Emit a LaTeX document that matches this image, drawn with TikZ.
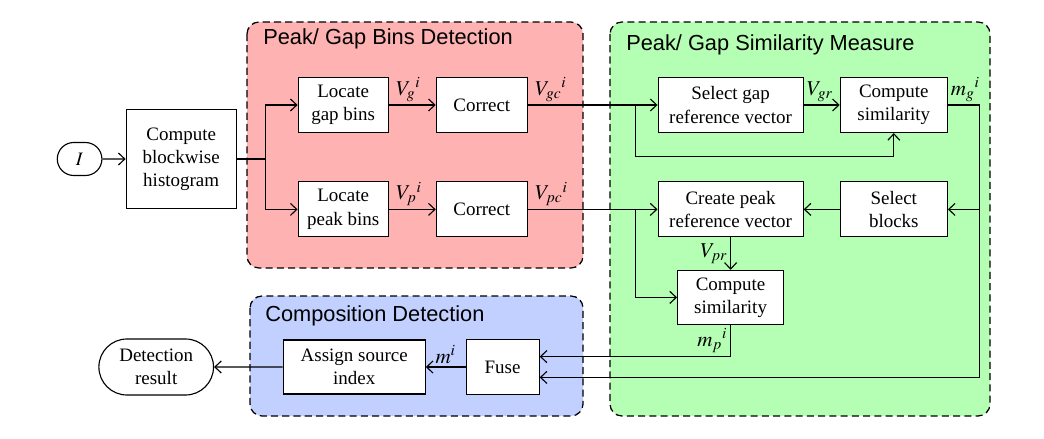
\documentclass[tikz,border=0pt]{standalone}
\usepackage{mathptmx}
\usepackage{fontspec}
\setmainfont{Liberation Serif}
\setsansfont{Liberation Sans}
\usepackage{tikz}
\usetikzlibrary{shapes.geometric, shapes.misc, arrows, arrows.meta}
\usepackage{color}
\definecolor{binsred}{RGB}{255,178,178}
\definecolor{simgreen}{RGB}{180,255,180}
\definecolor{compblue}{RGB}{194,208,255}
\tikzstyle{process} = [rectangle, minimum height=1.375cm, text centered, align=center, draw=black, fill=white, thick, font=\fontsize{13.5}{16.5}\selectfont]
\tikzstyle{terminal} = [rounded rectangle, text centered, align=center, draw=black, fill=white, thick, font=\fontsize{13.5}{16.5}\selectfont]
\tikzstyle{region} = [draw=black, dash pattern=on 5pt off 3pt, rounded corners=0.3cm, line width=0.9pt]
\tikzstyle{title} = [anchor=base west, inner sep=0pt, font=\sffamily\fontsize{15.5}{18}\selectfont]
\tikzstyle{lbl} = [inner sep=2pt, font=\fontsize{15}{18}\selectfont]
\tikzstyle{arrow} = [thick,->,>={Straight Barb[length=1.6mm,width=3mm]}]

\begin{document}
\begin{tikzpicture}[node distance=2cm]
        \useasboundingbox (0,0) rectangle (26.1,-10.975);
        % Regions
        \draw [region, fill=binsred] (6.175,-0.55) rectangle (14.575,-6.7);
        \draw [region, fill=simgreen] (15.25,-0.55) rectangle (24.75,-10.4);
        \draw [region, fill=compblue] (6.25,-7.4) rectangle (14.575,-10.4);
        \node (binstitle) [title] at (6.575,-1.125) {Peak/ Gap Bins Detection};
        \node (simtitle) [title] at (15.65,-1.275) {Peak/ Gap Similarity Measure};
        \node (comptitle) [title] at (6.625,-8.025) {Composition Detection};

        % Nodes
        \node (input) [terminal, minimum width=1.35cm, minimum height=0.825cm] at (1.99,-3.975) {$I$};
        \node (hist) [process, right of=input, xshift=0.54cm, minimum width=2.75cm, minimum height=2.475cm] {Compute\\blockwise\\histogram};
        \node (gapbins) [process, right of=hist, xshift=2.05cm, yshift=1.35cm, minimum width=2.25cm] {Locate\\gap bins};
        \node (peakbins) [process, below of=gapbins, yshift=-0.61cm, minimum width=2.25cm] {Locate\\peak bins};
        \node (corrg) [process, right of=gapbins, xshift=1.465cm, minimum width=2.275cm] {Correct};
        \node (corrp) [process, right of=peakbins, xshift=1.465cm, minimum width=2.275cm] {Correct};
        \node (selgap) [process, right of=corrg, xshift=4.22cm, minimum width=3.625cm] {Select gap\\reference vector};
        \node (simg) [process, right of=selgap, xshift=2.08cm, minimum width=2.675cm] {Compute\\similarity};
        \node (creatpeak) [process, right of=corrp, xshift=4.22cm, minimum width=3.625cm] {Create peak\\reference vector};
        \node (selblocks) [process, right of=creatpeak, xshift=2.08cm, minimum width=2.675cm] {Select\\blocks};
        \node (simp) [process, below of=creatpeak, yshift=-0.2cm, minimum width=2.65cm, minimum height=1.35cm] {Compute\\similarity};
        \node (fuse) [process, below of=corrp, xshift=0.52cm, yshift=-1.94cm, minimum width=1.825cm] {Fuse};
        \node (assign) [process, left of=fuse, xshift=-1.71cm, minimum width=3.55cm, minimum height=1.35cm] {Assign source\\index};
        \node (result) [terminal, left of=assign, xshift=-2.95cm, minimum width=3.1cm, minimum height=1.4cm] {Detection\\result};
        \coordinate (split) at ([xshift=0.725cm]hist.east);
        \coordinate (gtap) at ([xshift=2.7cm]corrg.east);
        \coordinate (ptap) at ([xshift=2.7cm]corrp.east);
        \coordinate (gout) at ([xshift=0.8cm]simg.east);

        % Arrows
        \draw [arrow] (input) -- (hist);
        \draw [arrow] (hist.east) -- (split) |- (gapbins.west);
        \draw [arrow] (split) |- (peakbins.west);
        \draw [arrow] (gapbins) -- (corrg) node[pos=0, lbl, above right, xshift=0.1cm] {${V_g}^i$};
        \draw [arrow] (peakbins) -- (corrp) node[pos=0, lbl, above right, xshift=0.1cm] {${V_p}^i$};
        \draw [arrow] (corrg) -- (selgap) node[pos=0, lbl, above right, xshift=0.1cm] {${V_{gc}}^i$};
        \draw [arrow] (corrp) -- (creatpeak) node[pos=0, lbl, above right, xshift=0.1cm] {${V_{pc}}^i$};
        \draw [arrow] (gtap) -- ++(0,-1.29) -| (simg.south);
        \draw [arrow] (ptap) |- (simp.west);
        \draw [arrow] (selgap) -- (simg) node[pos=0, lbl, above right] {$V_{gr}$};
        \draw [arrow] (simg.east) -- (gout) |- ([yshift=-0.26cm]fuse.east);
        \draw [arrow] (gout |- selblocks.east) -- (selblocks.east);
        \draw [arrow] (selblocks) -- (creatpeak);
        \draw [arrow] (creatpeak.south) -- (creatpeak.south |- simp.north) node[midway, lbl, left] {$V_{pr}$};
        \draw [arrow] (simp.south) |- ([yshift=0.26cm]fuse.east) node[near start, lbl, left] {${m_p}^i$};
        \draw [arrow] (fuse) -- (assign) node[midway, lbl, above] {$m^i$};
        \draw [arrow] (assign) -- (result);
        \node (mglbl) [lbl, above right] at (simg.east) {${m_g}^i$};
    \end{tikzpicture}
\end{document}
